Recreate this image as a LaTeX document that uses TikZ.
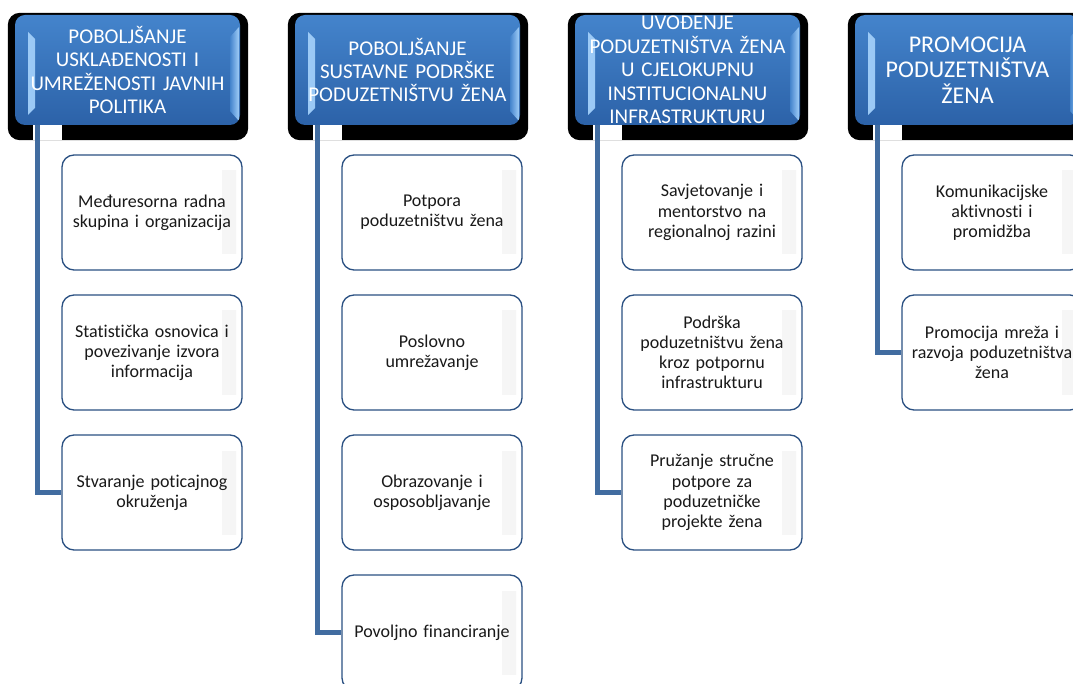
\documentclass[tikz,border=0pt]{standalone}
\usepackage{fontspec}
\setmainfont{Carlito}[Ligatures=CommonOff]
\usetikzlibrary{backgrounds}
\definecolor{conn}{RGB}{65,108,160}
\definecolor{hdrtop}{RGB}{68,132,204}
\definecolor{hdrbot}{RGB}{44,98,168}
\definecolor{bevl}{RGB}{160,205,248}
\definecolor{cbord}{RGB}{42,80,130}
\tikzset{
  hdr/.style={minimum width=225pt, minimum height=110pt, inner sep=0pt,
    align=center, text=white, text width=222pt,
    font=\fontsize{21}{23.4}\selectfont,
    rounded corners=10pt, top color=hdrtop, bottom color=hdrbot,
    path picture={
      \shade[sharp corners, left color=bevl, right color=hdrtop!70!bevl]
        ([xshift=13pt,yshift=-17pt]path picture bounding box.north west) --
        ([xshift=20pt,yshift=-24pt]path picture bounding box.north west) --
        ([xshift=20pt,yshift=17pt]path picture bounding box.south west) --
        ([xshift=13pt,yshift=10pt]path picture bounding box.south west) -- cycle;
      \shade[sharp corners, left color=hdrtop, right color=bevl]
        ([xshift=-10pt,yshift=-22pt]path picture bounding box.north east) --
        ([xshift=-1pt,yshift=-12pt]path picture bounding box.north east) --
        ([xshift=-1pt,yshift=4pt]path picture bounding box.south east) --
        ([xshift=-10pt,yshift=14pt]path picture bounding box.south east) -- cycle;
    }},
  bighdr/.style={hdr, font=\fontsize{24}{25.5}\selectfont},
  child/.style={minimum width=180pt, minimum height=115pt, inner sep=0pt,
    align=center, text=black!90, text width=178pt,
    font=\fontsize{18}{20.2}\selectfont,
    draw=cbord, line width=1.3pt, rounded corners=12pt, fill=white,
    path picture={
      \shade[sharp corners, left color=white, right color=black!4]
        ([xshift=-20pt,yshift=-16pt]path picture bounding box.north east) rectangle
        ([xshift=-6pt,yshift=16pt]path picture bounding box.south east);
    }},
  link/.style={draw=conn, line width=5pt},
  hshadow/.style={fill=black, rounded corners=12pt},
}
\begin{document}
\begin{tikzpicture}[x=1pt,y=-1pt]
\useasboundingbox (0,0) rectangle (1073,684);
\begin{scope}
\clip (0,0) rectangle (1073,684);
% headers
\node[hdr] (h1) at (127.5,70) {POBOLJŠANJE\\USKLAĐENOSTI I\\UMREŽENOSTI JAVNIH\\POLITIKA};
\node[hdr] (h2) at (407.5,70) {POBOLJŠANJE\\SUSTAVNE PODRŠKE\\PODUZETNIŠTVU ŽENA};
\node[hdr] (h3) at (687.5,70) {UVOĐENJE\\PODUZETNIŠTVA ŽENA\\U CJELOKUPNU\\INSTITUCIONALNU\\INFRASTRUKTURU};
\node[bighdr] (h4) at (967.5,70) {PROMOCIJA\\PODUZETNIŠTVA\\ŽENA};
% column 1
\node[child] (c11) at (152,212.5) {Međuresorna radna\\skupina i organizacija};
\node[child] (c12) at (152,352.5) {Statistička osnovica i\\povezivanje izvora\\informacija};
\node[child] (c13) at (152,492.5) {Stvaranje poticajnog\\okruženja};
% column 2
\node[child] (c21) at (432,212.5) {Potpora\\poduzetništvu žena};
\node[child] (c22) at (432,352.5) {Poslovno\\umrežavanje};
\node[child] (c23) at (432,492.5) {Obrazovanje i\\osposobljavanje};
\node[child] (c24) at (432,632.5) {Povoljno financiranje};
% column 3
\node[child] (c31) at (712,212.5) {Savjetovanje i\\mentorstvo na\\regionalnoj razini};
\node[child] (c32) at (712,352.5) {Podrška\\poduzetništvu žena\\kroz potpornu\\infrastrukturu};
\node[child] (c33) at (712,492.5) {Pružanje stručne\\potpore za\\poduzetničke\\projekte žena};
% column 4
\node[child] (c41) at (992,212.5) {Komunikacijske\\aktivnosti i\\promidžba};
\node[child] (c42) at (992,352.5) {Promocija mreža i\\razvoja poduzetništva\\žena};
% connectors
\draw[link] ([xshift=23pt]h1.south west) |- (c13.west);
\draw[link] ([xshift=23pt]h2.south west) |- (c24.west);
\draw[link] ([xshift=23pt]h3.south west) |- (c33.west);
\draw[link] ([xshift=23pt]h4.south west) |- (c42.west);
\end{scope}
\begin{scope}[on background layer]
\clip (0,0) rectangle (1073,684);
\foreach \h in {h1,h2,h3,h4}{
  \fill[hshadow] ([shift={(-7,-2)}]\h.north west) rectangle ([shift={(8,15)}]\h.south east);
  \fill[white] ([shift={(18,0)}]\h.south west) rectangle ([shift={(47,15)}]\h.south west);
}
\end{scope}
\end{tikzpicture}
\end{document}
